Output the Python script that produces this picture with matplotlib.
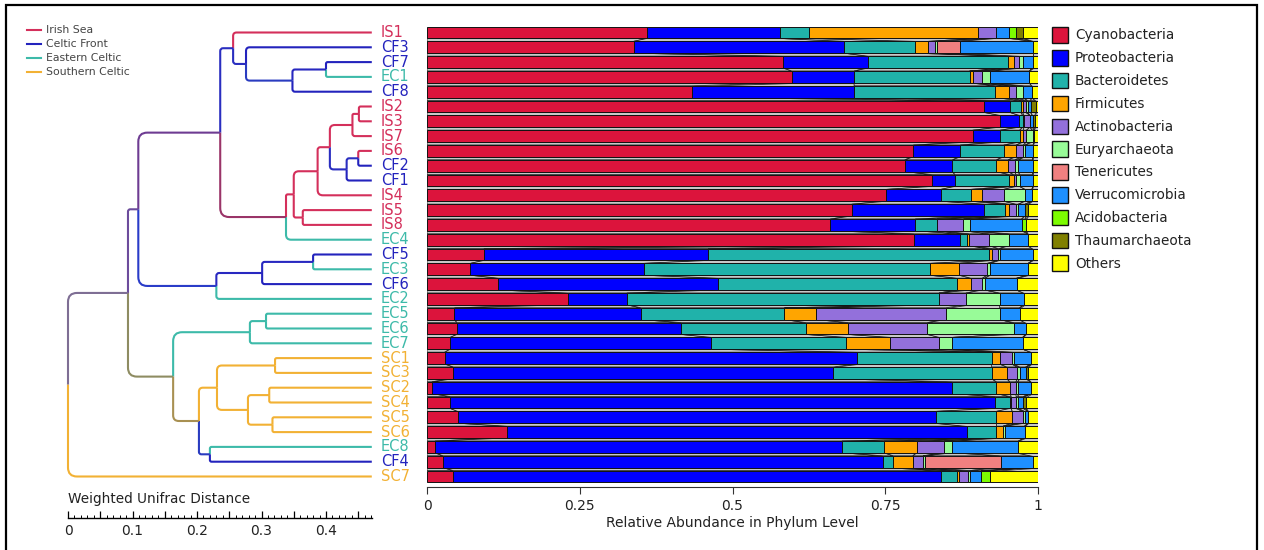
import matplotlib
matplotlib.use('Agg')
import matplotlib.pyplot as plt
from matplotlib.path import Path
from matplotlib.patches import PathPatch, Rectangle, Polygon
from matplotlib.ticker import FixedLocator
import numpy as np

plt.rcParams['font.family'] = ['DejaVu Sans']

W, H = 1264, 550
fig = plt.figure(figsize=(W / 100, H / 100), dpi=100)

# ---------------- data ----------------
samples = ['IS1', 'CF3', 'CF7', 'EC1', 'CF8', 'IS2', 'IS3', 'IS7', 'IS6', 'CF2', 'CF1',
           'IS4', 'IS5', 'IS8', 'EC4', 'CF5', 'EC3', 'CF6', 'EC2', 'EC5', 'EC6', 'EC7',
           'SC1', 'SC3', 'SC2', 'SC4', 'SC5', 'SC6', 'EC8', 'CF4', 'SC7']

region_names = ['Irish Sea', 'Celtic Front', 'Eastern Celtic', 'Southern Celtic']
region_codes = ['IS', 'CF', 'EC', 'SC']
region_colors = ['#d42f5b', '#2323bd', '#3dbaa9', '#f2b134']

phyla = ['Cyanobacteria', 'Proteobacteria', 'Bacteroidetes', 'Firmicutes', 'Actinobacteria',
         'Euryarchaeota', 'Tenericutes', 'Verrucomicrobia', 'Acidobacteria', 'Thaumarchaeota',
         'Others']
phylum_colors = ['#dc143c', '#0000ff', '#20b2aa', '#ffa500', '#9370db', '#98fb98',
                 '#f08080', '#1e90ff', '#7cfc00', '#808000', '#ffff00']

cyano = [0.360, 0.338, 0.583, 0.597, 0.433, 0.912, 0.937, 0.893, 0.796, 0.782, 0.826,
         0.752, 0.695, 0.660, 0.797, 0.093, 0.071, 0.117, 0.230, 0.045, 0.049, 0.038,
         0.029, 0.043, 0.008, 0.038, 0.050, 0.131, 0.013, 0.026, 0.043]
proteo = [0.217, 0.345, 0.139, 0.102, 0.266, 0.042, 0.032, 0.045, 0.077, 0.078, 0.038,
          0.089, 0.217, 0.139, 0.075, 0.367, 0.284, 0.359, 0.097, 0.305, 0.367, 0.427,
          0.674, 0.622, 0.852, 0.892, 0.783, 0.752, 0.666, 0.720, 0.798]
bacteroid = [0.048, 0.115, 0.229, 0.189, 0.231, 0.018, 0.006, 0.032, 0.071, 0.072, 0.089,
             0.049, 0.034, 0.036, 0.012, 0.459, 0.468, 0.391, 0.511, 0.235, 0.204, 0.221,
             0.221, 0.259, 0.072, 0.024, 0.099, 0.049, 0.069, 0.017, 0.027]
firmic = [0.276, 0.022, 0.009, 0.005, 0.023, 0.003, 0.002, 0.006, 0.020, 0.019, 0.007,
          0.018, 0.007, 0.000, 0.003, 0.006, 0.048, 0.023, 0.000, 0.052, 0.069, 0.072,
          0.013, 0.025, 0.022, 0.002, 0.026, 0.011, 0.054, 0.032, 0.003]
actino = [0.031, 0.011, 0.009, 0.015, 0.011, 0.005, 0.010, 0.005, 0.012, 0.011, 0.004,
          0.036, 0.011, 0.043, 0.033, 0.010, 0.046, 0.019, 0.044, 0.212, 0.130, 0.080,
          0.020, 0.017, 0.010, 0.008, 0.017, 0.000, 0.044, 0.017, 0.015]
euryarch = [0.000, 0.004, 0.007, 0.013, 0.012, 0.003, 0.000, 0.010, 0.003, 0.006, 0.006,
            0.035, 0.004, 0.010, 0.033, 0.002, 0.005, 0.004, 0.055, 0.088, 0.141, 0.022,
            0.003, 0.004, 0.003, 0.004, 0.003, 0.003, 0.014, 0.003, 0.002]
teneric = [0.000, 0.037, 0.000, 0.000, 0.000, 0.000, 0.000, 0.000, 0.000, 0.000, 0.000,
           0.000, 0.000, 0.000, 0.000, 0.000, 0.000, 0.000, 0.000, 0.000, 0.000, 0.000,
           0.000, 0.000, 0.000, 0.000, 0.000, 0.000, 0.000, 0.124, 0.000]
verruco = [0.021, 0.119, 0.015, 0.065, 0.014, 0.005, 0.004, 0.003, 0.013, 0.023, 0.022,
           0.011, 0.011, 0.085, 0.031, 0.054, 0.062, 0.052, 0.040, 0.033, 0.020, 0.115,
           0.029, 0.010, 0.022, 0.008, 0.006, 0.032, 0.108, 0.053, 0.019]
acido = [0.011, 0.000, 0.000, 0.000, 0.000, 0.000, 0.000, 0.000, 0.000, 0.000, 0.000,
         0.000, 0.000, 0.007, 0.000, 0.000, 0.000, 0.000, 0.000, 0.000, 0.000, 0.000,
         0.000, 0.000, 0.000, 0.000, 0.000, 0.000, 0.000, 0.000, 0.015]
thaum = [0.012, 0.000, 0.000, 0.000, 0.000, 0.008, 0.004, 0.000, 0.000, 0.000, 0.000,
         0.000, 0.005, 0.000, 0.000, 0.000, 0.000, 0.000, 0.000, 0.000, 0.000, 0.000,
         0.000, 0.003, 0.000, 0.004, 0.000, 0.000, 0.000, 0.000, 0.000]
others = [0.024, 0.009, 0.009, 0.014, 0.010, 0.004, 0.005, 0.006, 0.008, 0.009, 0.008,
          0.010, 0.016, 0.020, 0.016, 0.009, 0.016, 0.035, 0.023, 0.030, 0.020, 0.025,
          0.011, 0.017, 0.011, 0.020, 0.016, 0.022, 0.032, 0.008, 0.078]

# dendrogram (merge name, children, merge height in weighted UniFrac units, branch colour)
merge_names = ['D', 'C', 'B', 'A', 'M', 'K', 'N', 'L', 'J', 'H', 'I', 'G', 'F', 'E',
               'T', 'S', 'Q', 'P', 'X', 'V', 'AA', 'CC', 'DD', 'BB', 'Y', 'Z', 'W', 'U',
               'R', 'ROOT']
merge_children = [('CF7', 'EC1'), ('D', 'CF8'), ('CF3', 'C'), ('IS1', 'B'),
                  ('IS2', 'IS3'), ('M', 'IS7'), ('IS6', 'CF2'), ('N', 'CF1'), ('K', 'L'),
                  ('J', 'IS4'), ('IS5', 'IS8'), ('H', 'I'), ('G', 'EC4'), ('A', 'F'),
                  ('CF5', 'EC3'), ('T', 'CF6'), ('S', 'EC2'), ('E', 'Q'),
                  ('EC5', 'EC6'), ('X', 'EC7'), ('SC1', 'SC3'), ('SC2', 'SC4'),
                  ('SC5', 'SC6'), ('CC', 'DD'), ('AA', 'BB'), ('EC8', 'CF4'), ('Y', 'Z'),
                  ('V', 'W'), ('P', 'U'), ('R', 'SC7')]
merge_heights = [0.071, 0.123, 0.195, 0.215, 0.020, 0.030, 0.021, 0.039, 0.065, 0.084,
                 0.107, 0.121, 0.133, 0.235, 0.091, 0.170, 0.241, 0.362, 0.164, 0.189,
                 0.150, 0.159, 0.154, 0.192, 0.240, 0.251, 0.268, 0.308, 0.378, 0.471]
merge_colors = ['#2828c0', '#2a3cc0', '#2a2ec0', '#2a2ec0', '#d42f5b', '#d42f5b',
                '#2a2ec0', '#2a2ec0', '#d42f5b', '#d42f5b', '#d42f5b', '#d42f5b',
                '#9a3468', '#6e3c92', '#2828c0', '#2828c0', '#2a3cc8', '#6c4c9c',
                '#3dbaa9', '#3dbaa9', '#f2b134', '#f2b134', '#f2b134', '#f2b134',
                '#f2b134', '#2a3cc0', '#a89052', '#8e8c62', '#7e6e94', '#7e6e94']

# ---------------- geometry helpers ----------------
PX_PER_UNIT = 645.0      # dendrogram px per distance unit
ROW_PX = 14.8            # px per row
top_px, bot_px = 25.0, 487.0
first_row_px = 32.5
ylim = ((bot_px - first_row_px) / ROW_PX, (top_px - first_row_px) / ROW_PX)
ax_bottom = 1 - bot_px / H
ax_height = (bot_px - top_px) / H

# background axis for frame & legends (pixel coordinates)
ax_bg = fig.add_axes([0, 0, 1, 1])
ax_bg.set_xlim(0, W)
ax_bg.set_ylim(H, 0)
ax_bg.axis('off')
ax_bg.plot([6, 6, 1257, 1257], [552, 5, 5, 552], color='black', lw=1.6,
           solid_joinstyle='miter')

# left legend
for i, (nm, col) in enumerate(zip(region_names, region_colors)):
    yy = 30 + 13.9 * i
    ax_bg.plot([27, 41], [yy, yy], color=col, lw=1.5)
    ax_bg.text(46, yy, nm, fontsize=7.8, va='center', ha='left', color='#444444')

# right legend
for k, (nm, col) in enumerate(zip(phyla, phylum_colors)):
    yy = 35 + 22.83 * k
    ax_bg.add_patch(Rectangle((1052, yy - 7.8), 15.6, 15.6, facecolor=col,
                              edgecolor='#111111', lw=1.0))
    ax_bg.text(1075, yy + 0.5, nm, fontsize=9.8, va='center', ha='left', color='#222222')

ax_bg.text(68, 499, 'Weighted Unifrac Distance', fontsize=9.8, va='center', ha='left',
           color='#222222')

# ---------------- stacked bars ----------------
ax_b = fig.add_axes([427 / W, ax_bottom, 611 / W, ax_height])
abund = np.array([cyano, proteo, bacteroid, firmic, actino, euryarch, teneric, verruco,
                  acido, thaum, others])
rows = np.arange(len(samples))
lefts = np.vstack([np.zeros(len(samples)), np.cumsum(abund, axis=0)[:-1]])
rights = lefts + abund
hh = 0.40

for i in range(len(samples) - 1):
    for k in range(len(phyla)):
        poly = Polygon([(lefts[k, i], i + hh), (rights[k, i], i + hh),
                        (rights[k, i + 1], i + 1 - hh), (lefts[k, i + 1], i + 1 - hh)],
                       closed=True, facecolor='#c8c8c8', edgecolor='#1a1a1a', lw=0.55,
                       zorder=1)
        ax_b.add_patch(poly)

for k in range(len(phyla)):
    vals = abund[k]
    lw = np.where(vals > 0, 0.7, 0.0)
    ax_b.barh(rows, vals, left=lefts[k], height=2 * hh, color=phylum_colors[k],
              edgecolor='#111111', linewidth=lw, zorder=2)

ax_b.set_xlim(0, 1)
ax_b.set_ylim(*ylim)
for s in ['top', 'right', 'left']:
    ax_b.spines[s].set_visible(False)
ax_b.spines['bottom'].set_bounds(0, 1)
ax_b.spines['bottom'].set_color('#333333')
ax_b.set_yticks([])
ax_b.set_xticks([0, 0.25, 0.5, 0.75, 1])
ax_b.set_xticklabels(['0', '0.25', '0.5', '0.75', '1'], fontsize=10, color='#222222')
ax_b.tick_params(axis='x', length=5, width=0.8, color='#333333', pad=4)
ax_b.set_xlabel('Relative Abundance in Phylum Level', fontsize=10, color='#222222',
                labelpad=2)

# ---------------- dendrogram ----------------
root_h = merge_heights[-1]
ax_d = fig.add_axes([60 / W, ax_bottom, 320 / W, ax_height])
ax_d.set_xlim(-8 / PX_PER_UNIT, 312 / PX_PER_UNIT)
ax_d.set_ylim(*ylim)
ax_d.axis('off')

pos = {}
colmap = {}
for i, s in enumerate(samples):
    pos[s] = (root_h, float(i))
    colmap[s] = region_colors[region_codes.index(s[:2])]
for nm, (a, b), h, c in zip(merge_names, merge_children, merge_heights, merge_colors):
    pos[nm] = (root_h - h, (pos[a][1] + pos[b][1]) / 2.0)
    colmap[nm] = c

for nm, (a, b) in zip(merge_names, merge_children):
    nx, ny = pos[nm]
    for ch in (a, b):
        cx, cy = pos[ch]
        vlen = abs(cy - ny) * ROW_PX
        hlen = (cx - nx) * PX_PER_UNIT
        r = min(9.0, 0.22 * vlen, 0.22 * hlen)
        rx, ry = r / PX_PER_UNIT, r / ROW_PX
        sgn = 1.0 if cy > ny else -1.0
        verts = [(nx, ny), (nx, cy - sgn * ry), (nx, cy), (nx + rx, cy), (cx, cy)]
        codes = [Path.MOVETO, Path.LINETO, Path.CURVE3, Path.CURVE3, Path.LINETO]
        ax_d.add_patch(PathPatch(Path(verts, codes), fill=False, edgecolor=colmap[ch],
                                 lw=1.5, capstyle='butt', joinstyle='round'))

for i, s in enumerate(samples):
    ax_d.text(root_h + 9 / PX_PER_UNIT, i, s, fontsize=10.5, va='center', ha='left',
              color=colmap[s], clip_on=False)

# scale bar
ax_s = fig.add_axes([60 / W, 1 - 518 / H, 320 / W, 0.01])
ax_s.set_xlim(-8 / PX_PER_UNIT, 312 / PX_PER_UNIT)
ax_s.patch.set_visible(False)
for s in ['top', 'right', 'left']:
    ax_s.spines[s].set_visible(False)
ax_s.spines['bottom'].set_bounds(0, 0.471)
ax_s.spines['bottom'].set_linewidth(1.0)
ax_s.set_yticks([])
major = [0.05 * j for j in range(10)]
ax_s.xaxis.set_major_locator(FixedLocator(major))
ax_s.set_xticklabels(['0' if j == 0 else ('%.1f' % (0.05 * j) if j % 2 == 0 else '')
                      for j in range(10)], fontsize=10, color='#222222')
ax_s.xaxis.set_minor_locator(FixedLocator([0.01 * j for j in range(48)]))
ax_s.tick_params(axis='x', which='major', direction='in', length=5, width=0.9, pad=4)
ax_s.tick_params(axis='x', which='minor', direction='in', length=2.5, width=0.7)

fig.savefig('out.png', dpi=100)
